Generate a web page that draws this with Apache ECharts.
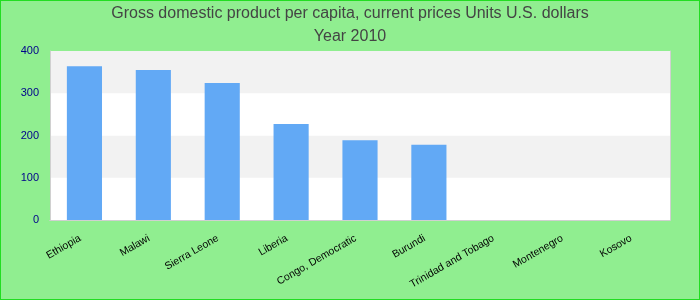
<!DOCTYPE html>
<html>
<head>
<meta charset="utf-8">
<script src="https://cdn.jsdelivr.net/npm/echarts@6/dist/echarts.min.js"></script>
<style>
html,body{margin:0;padding:0;background:#90EE90;}
#wrap{position:relative;width:700px;height:300px;}
#chart{position:absolute;left:0;top:0;width:700px;height:300px;}
#frame{position:absolute;left:0;top:0;width:700px;height:300px;box-sizing:border-box;border:1px solid #22dd22;pointer-events:none;}
</style>
</head>
<body>
<div id="wrap"><div id="chart"></div><div id="frame"></div></div>
<script>
var titleLines = ['Gross domestic product per capita, current prices Units U.S. dollars', 'Year 2010'];
var categories = ['Ethiopia', 'Malawi', 'Sierra Leone', 'Liberia', 'Congo, Democratic', 'Burundi', 'Trinidad and Tobago', 'Montenegro', 'Kosovo'];
var values = [364, 355, 324, 227, 189, 178, null, null, null];
var yTicks = [0, 100, 200, 300, 400];

var FONT = 'Liberation Sans, Arial, sans-serif';
var borderLine = {show: true, lineStyle: {color: '#d0d0d0', width: 1}};
var chart = echarts.init(document.getElementById('chart'), null, {renderer: 'canvas'});
chart.setOption({
  animation: false,
  backgroundColor: '#90EE90',
  textStyle: {fontFamily: FONT},
  title: {
    text: titleLines.join('\n'),
    left: 'center',
    top: 2,
    padding: 0,
    textStyle: {fontSize: 16, fontWeight: 'normal', color: '#444444', lineHeight: 23, fontFamily: FONT}
  },
  grid: {left: 50, right: 30, top: 51, bottom: 80, show: true, backgroundColor: '#ffffff', borderWidth: 0, containLabel: false},
  xAxis: [{
    type: 'category',
    data: categories,
    axisLine: borderLine,
    axisTick: {show: false},
    axisLabel: {rotate: 30, interval: 0, fontSize: 10.5, color: '#000000', margin: 15, padding: [0, 5, 0, 0], fontFamily: FONT}
  }, {
    type: 'category',
    position: 'top',
    data: categories,
    axisLine: borderLine,
    axisTick: {show: false},
    axisLabel: {show: false}
  }],
  yAxis: [{
    type: 'value',
    min: yTicks[0],
    max: yTicks[yTicks.length - 1],
    interval: 100,
    axisLine: borderLine,
    axisTick: {show: false},
    splitLine: {show: false},
    splitArea: {show: true, areaStyle: {color: ['#ffffff', '#f2f2f2']}},
    axisLabel: {fontSize: 11, color: '#00008b', margin: 11, fontFamily: FONT}
  }, {
    type: 'value',
    position: 'right',
    min: yTicks[0],
    max: yTicks[yTicks.length - 1],
    interval: 100,
    axisLine: borderLine,
    axisTick: {show: false},
    splitLine: {show: false},
    axisLabel: {show: false}
  }],
  series: [{
    type: 'bar',
    data: values,
    barWidth: '51%',
    itemStyle: {color: '#62a9f5'}
  }]
});
</script>
</body>
</html>
